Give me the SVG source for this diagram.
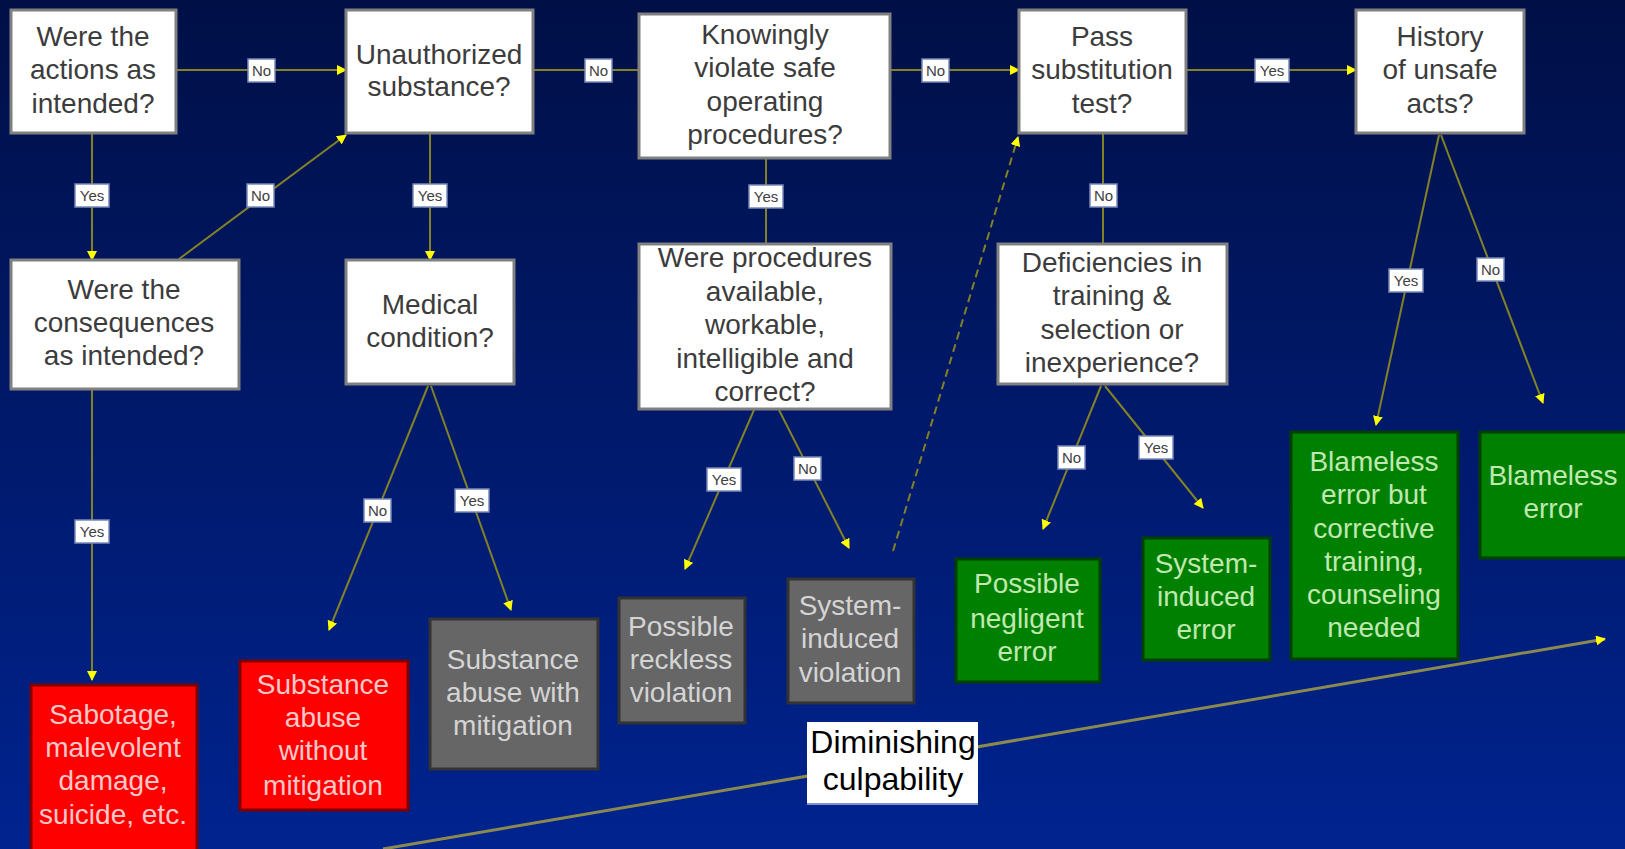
<svg xmlns="http://www.w3.org/2000/svg" width="1625" height="849" viewBox="0 0 1625 849">
<defs>
<linearGradient id="bg" x1="0" y1="0" x2="0" y2="1">
<stop offset="0" stop-color="#000f46"/>
<stop offset="1" stop-color="#00238f"/>
</linearGradient>
<marker id="ah" viewBox="0 0 10 10" refX="9" refY="5" markerWidth="10" markerHeight="10" markerUnits="userSpaceOnUse" orient="auto">
<path d="M0,0 L10,5 L0,10 z" fill="#ffff00"/>
</marker>
<style>
.q rect{fill:#ffffff;stroke:#808080;stroke-width:3}
.q text{font-family:"Liberation Sans",Arial,sans-serif;font-size:28px;fill:#3c3c3c;text-anchor:middle}
.red rect{fill:#ff0000;stroke:#800000;stroke-width:3}
.red text{font-family:"Liberation Sans",Arial,sans-serif;font-size:28px;fill:#ffc8c8;text-anchor:middle}
.gray rect{fill:#666666;stroke:#333333;stroke-width:3}
.gray text{font-family:"Liberation Sans",Arial,sans-serif;font-size:28px;fill:#d4d4d4;text-anchor:middle}
.green rect{fill:#008000;stroke:#004000;stroke-width:3}
.green text{font-family:"Liberation Sans",Arial,sans-serif;font-size:28px;fill:#c0e8b0;text-anchor:middle}
.c line{stroke:#828224;stroke-width:2;fill:none}
.c .a{marker-end:url(#ah)}
.c .d{stroke-dasharray:8 5}
.lb rect{fill:#ffffff;stroke:#7888b8;stroke-width:1.5}
.lb text{font-family:"Liberation Sans",Arial,sans-serif;font-size:15px;fill:#404040;text-anchor:middle}
.dim text{font-family:"Liberation Sans",Arial,sans-serif;font-size:32px;fill:#000000;text-anchor:middle}
</style>
</defs>
<rect x="0" y="0" width="1625" height="849" fill="url(#bg)"/>

<g id="culpability-axis">
<line x1="383" y1="849" x2="1605" y2="639" stroke="#8a8a50" stroke-width="3" marker-end="url(#ah)"/>
</g>

<g id="connectors" class="c">
<line class="a" x1="176" y1="70" x2="346" y2="70"/>
<line x1="533" y1="70" x2="639" y2="70"/>
<line class="a" x1="890" y1="70" x2="1019" y2="70"/>
<line class="a" x1="1186" y1="70" x2="1356" y2="70"/>
<line class="a" x1="92" y1="133" x2="92" y2="260"/>
<line class="a" x1="179" y1="259" x2="346" y2="135"/>
<line class="a" x1="430" y1="133" x2="430" y2="260"/>
<line class="a" x1="428" y1="386" x2="329" y2="630"/>
<line class="a" x1="431" y1="386" x2="511" y2="610"/>
<line class="a" x1="92" y1="389" x2="92" y2="680"/>
<line x1="766" y1="158" x2="766" y2="244"/>
<line class="a" x1="754" y1="410" x2="685" y2="569"/>
<line class="a" x1="779" y1="410" x2="849" y2="548"/>
<line class="a d" x1="893" y1="551" x2="1018" y2="137"/>
<line x1="1103" y1="133" x2="1103" y2="244"/>
<line class="a" x1="1101" y1="386" x2="1043" y2="529"/>
<line class="a" x1="1105" y1="386" x2="1203" y2="508"/>
<line class="a" x1="1439" y1="135" x2="1376" y2="425"/>
<line class="a" x1="1441" y1="135" x2="1543" y2="403"/>
</g>

<g id="labels" class="lb">
<g><rect x="248" y="59" width="27" height="23"/><text x="261.5" y="76">No</text></g>
<g><rect x="585" y="59" width="27" height="23"/><text x="598.5" y="76">No</text></g>
<g><rect x="922" y="59" width="27" height="23"/><text x="935.5" y="76">No</text></g>
<g><rect x="1255" y="59" width="34" height="23"/><text x="1272" y="76">Yes</text></g>
<g><rect x="75" y="184" width="34" height="23"/><text x="92" y="201">Yes</text></g>
<g><rect x="247" y="184" width="27" height="23"/><text x="260.5" y="201">No</text></g>
<g><rect x="413" y="184" width="34" height="23"/><text x="430" y="201">Yes</text></g>
<g><rect x="749" y="185" width="34" height="23"/><text x="766" y="202">Yes</text></g>
<g><rect x="1090" y="184" width="27" height="23"/><text x="1103.5" y="201">No</text></g>
<g><rect x="75" y="520" width="34" height="23"/><text x="92" y="537">Yes</text></g>
<g><rect x="364" y="499" width="27" height="23"/><text x="377.5" y="516">No</text></g>
<g><rect x="455" y="489" width="34" height="23"/><text x="472" y="506">Yes</text></g>
<g><rect x="707" y="468" width="34" height="23"/><text x="724" y="485">Yes</text></g>
<g><rect x="794" y="457" width="27" height="23"/><text x="807.5" y="474">No</text></g>
<g><rect x="1058" y="446" width="27" height="23"/><text x="1071.5" y="463">No</text></g>
<g><rect x="1139" y="436" width="34" height="23"/><text x="1156" y="453">Yes</text></g>
<g><rect x="1389" y="269" width="34" height="23"/><text x="1406" y="286">Yes</text></g>
<g><rect x="1477" y="258" width="27" height="23"/><text x="1490.5" y="275">No</text></g>
</g>

<g id="q-actions" class="q">
<rect x="11" y="10" width="165" height="123"/>
<text x="93" y="46">Were the</text>
<text x="93" y="79">actions as</text>
<text x="93" y="113">intended?</text>
</g>
<g id="q-unauthorized" class="q">
<rect x="346" y="10" width="187" height="123"/>
<text x="439" y="64">Unauthorized</text>
<text x="439" y="96">substance?</text>
</g>
<g id="q-knowingly" class="q">
<rect x="639" y="14" width="251" height="144"/>
<text x="765" y="44">Knowingly</text>
<text x="765" y="77">violate safe</text>
<text x="765" y="111">operating</text>
<text x="765" y="144">procedures?</text>
</g>
<g id="q-substitution" class="q">
<rect x="1019" y="10" width="167" height="123"/>
<text x="1102" y="46">Pass</text>
<text x="1102" y="79">substitution</text>
<text x="1102" y="113">test?</text>
</g>
<g id="q-history" class="q">
<rect x="1356" y="10" width="168" height="123"/>
<text x="1440" y="46">History</text>
<text x="1440" y="79">of unsafe</text>
<text x="1440" y="113">acts?</text>
</g>
<g id="q-consequences" class="q">
<rect x="11" y="260" width="228" height="129"/>
<text x="124" y="299">Were the</text>
<text x="124" y="332">consequences</text>
<text x="124" y="365">as intended?</text>
</g>
<g id="q-medical" class="q">
<rect x="346" y="260" width="168" height="124"/>
<text x="430" y="314">Medical</text>
<text x="430" y="347">condition?</text>
</g>
<g id="q-procedures" class="q">
<rect x="639" y="244" width="252" height="165"/>
<text x="765" y="267">Were procedures</text>
<text x="765" y="301">available,</text>
<text x="765" y="334">workable,</text>
<text x="765" y="368">intelligible and</text>
<text x="765" y="401">correct?</text>
</g>
<g id="q-deficiencies" class="q">
<rect x="998" y="244" width="229" height="140"/>
<text x="1112" y="272">Deficiencies in</text>
<text x="1112" y="305">training &amp;</text>
<text x="1112" y="339">selection or</text>
<text x="1112" y="372">inexperience?</text>
</g>

<g id="o-sabotage" class="red">
<rect x="31" y="685" width="166" height="170"/>
<text x="113" y="724">Sabotage,</text>
<text x="113" y="757">malevolent</text>
<text x="113" y="790">damage,</text>
<text x="113" y="824">suicide, etc.</text>
</g>
<g id="o-abuse-without" class="red">
<rect x="240" y="661" width="168" height="149"/>
<text x="323" y="694">Substance</text>
<text x="323" y="727">abuse</text>
<text x="323" y="760">without</text>
<text x="323" y="795">mitigation</text>
</g>
<g id="o-abuse-with" class="gray">
<rect x="430" y="619" width="168" height="150"/>
<text x="513" y="669">Substance</text>
<text x="513" y="702">abuse with</text>
<text x="513" y="735">mitigation</text>
</g>
<g id="o-reckless" class="gray">
<rect x="619" y="598" width="126" height="125"/>
<text x="681" y="636">Possible</text>
<text x="681" y="669">reckless</text>
<text x="681" y="702">violation</text>
</g>
<g id="o-sys-violation" class="gray">
<rect x="788" y="579" width="126" height="124"/>
<text x="850" y="615">System-</text>
<text x="850" y="648">induced</text>
<text x="850" y="682">violation</text>
</g>
<g id="o-negligent" class="green">
<rect x="956" y="559" width="144" height="123"/>
<text x="1027" y="593">Possible</text>
<text x="1027" y="628">negligent</text>
<text x="1027" y="661">error</text>
</g>
<g id="o-sys-error" class="green">
<rect x="1143" y="538" width="127" height="122"/>
<text x="1206" y="573">System-</text>
<text x="1206" y="606">induced</text>
<text x="1206" y="639">error</text>
</g>
<g id="o-blameless-training" class="green">
<rect x="1291" y="432" width="167" height="227"/>
<text x="1374" y="471">Blameless</text>
<text x="1374" y="504">error but</text>
<text x="1374" y="538">corrective</text>
<text x="1374" y="571">training,</text>
<text x="1374" y="604">counseling</text>
<text x="1374" y="637">needed</text>
</g>
<g id="o-blameless" class="green">
<rect x="1480" y="432" width="150" height="126"/>
<text x="1553" y="485">Blameless</text>
<text x="1553" y="518">error</text>
</g>

<g id="diminishing" class="dim">
<rect x="807" y="722" width="171" height="82" fill="#ffffff"/>
<line x1="807" y1="804" x2="978" y2="804" stroke="#8090c8" stroke-width="2"/>
<text x="893" y="753">Diminishing</text>
<text x="893" y="790">culpability</text>
</g>
</svg>
